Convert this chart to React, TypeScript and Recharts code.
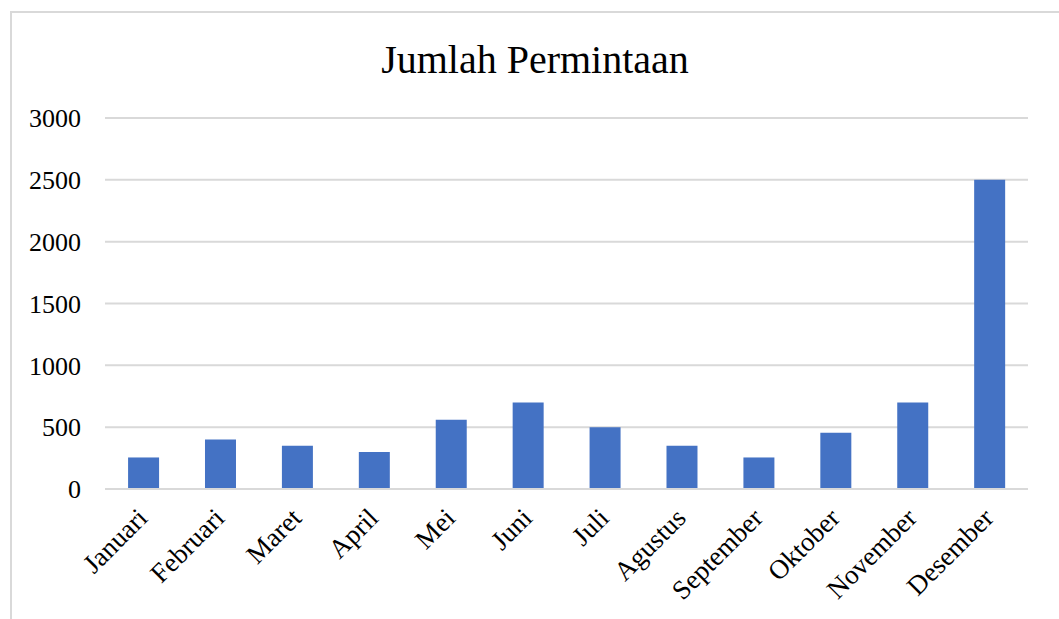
import React from 'react';
import { BarChart, Bar, XAxis, YAxis, CartesianGrid } from 'recharts';

const months = ['Januari', 'Februari', 'Maret', 'April', 'Mei', 'Juni', 'Juli', 'Agustus', 'September', 'Oktober', 'November', 'Desember'];
const permintaan = [255, 400, 350, 300, 560, 700, 500, 350, 255, 455, 700, 2500];
const yTicks = [0, 500, 1000, 1500, 2000, 2500, 3000];
const title = 'Jumlah Permintaan';

const data = months.map((m, i) => ({ month: m, value: permintaan[i] }));

const FONT = '"Liberation Serif", "Times New Roman", serif';

const XTick = (props: any) => {
  const { x, y, payload } = props;
  const ax = x - 1;
  const ay = y + 16;
  return (
    <text
      x={ax}
      y={ay}
      dy="0.35em"
      textAnchor="end"
      transform={`rotate(-45, ${ax}, ${ay})`}
      fontFamily={FONT}
      fontSize={27}
      fill="#000"
    >
      {payload.value}
    </text>
  );
};

export default function App() {
  return (
    <div style={{ position: 'absolute', left: 0, top: 0, width: 1059, height: 619, background: '#fff', overflow: 'hidden' }}>
      <div
        style={{
          position: 'absolute',
          left: 10,
          top: 11,
          width: 1100,
          height: 700,
          borderLeft: '2px solid #d9d9d9',
          borderTop: '2px solid #d9d9d9',
        }}
      />
      <div
        style={{
          position: 'absolute',
          left: 0,
          width: 1070,
          top: 40,
          textAlign: 'center',
          fontFamily: FONT,
          fontSize: 40,
          lineHeight: 1,
          color: '#000',
          whiteSpace: 'nowrap',
        }}
      >
        {title}
      </div>
      <div style={{ position: 'absolute', left: 0, top: 0 }}>
        <BarChart
          width={1059}
          height={619}
          data={data}
          margin={{ top: 118, right: 31, bottom: 0, left: 25 }}
          barCategoryGap="30%"
        >
          <CartesianGrid vertical={false} stroke="#d9d9d9" strokeWidth={2} />
          <XAxis
            dataKey="month"
            interval={0}
            height={130}
            tickLine={false}
            axisLine={{ stroke: '#d9d9d9', strokeWidth: 2 }}
            tick={<XTick />}
          />
          <YAxis
            width={80}
            domain={[0, 3000]}
            ticks={yTicks}
            interval={0}
            tickLine={false}
            axisLine={false}
            tickMargin={18}
            tick={{ fontFamily: FONT, fontSize: 26, fill: '#000' }}
          />
          <Bar dataKey="value" fill="#4472C4" isAnimationActive={false} />
        </BarChart>
      </div>
    </div>
  );
}
